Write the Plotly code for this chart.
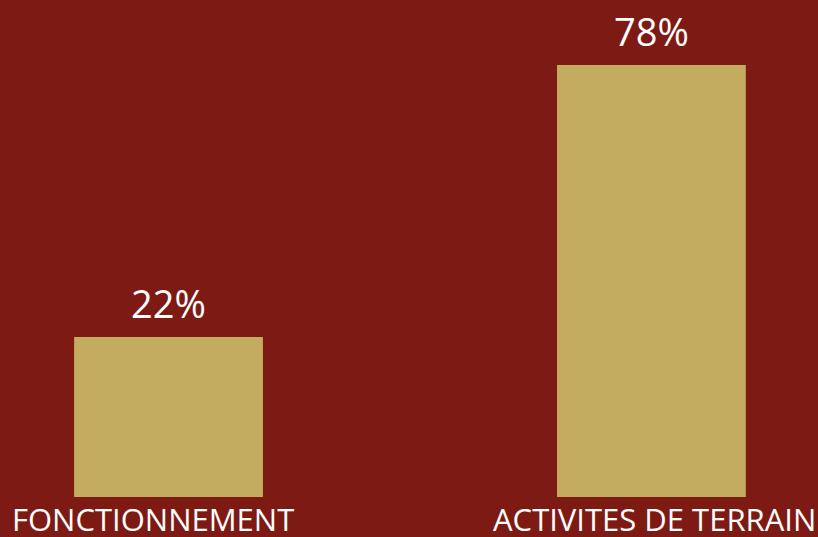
import plotly.graph_objects as go

categories = ["FONCTIONNEMENT", "ACTIVITES DE TERRAIN"]
values = [22, 78]
value_labels = ["22%", "78%"]

BASE = -10.94
BG = "#7E1A14"
BAR = "#C3AC5F"

fig = go.Figure(go.Bar(
    x=categories,
    y=[v - BASE for v in values],
    base=BASE,
    width=0.391,
    marker=dict(color=BAR, line=dict(width=0)),
    hoverinfo="skip",
))

# value labels above bars
for c, v, t in zip(categories, values, value_labels):
    fig.add_annotation(x=c, y=v, text=t, showarrow=False, yanchor="bottom",
                       yshift=6, font=dict(family="Open Sans", size=38, color="white"))

# category labels below bars
label_xshift = [-16, 3]
for c, dx in zip(categories, label_xshift):
    fig.add_annotation(x=c, y=0, yref="paper", text=c, showarrow=False, yanchor="top",
                       xshift=dx, yshift=0, borderpad=0,
                       font=dict(family="Open Sans", size=31, color="white"))

fig.update_layout(
    width=818, height=537,
    paper_bgcolor=BG, plot_bgcolor=BG,
    margin=dict(l=0, r=0, t=0, b=40),
    showlegend=False,
    font=dict(family="Open Sans", color="white"),
    xaxis=dict(range=[-0.349, 1.345], showgrid=False, zeroline=False, showline=False,
               ticks="", showticklabels=False),
    yaxis=dict(range=[BASE, 91.38], visible=False, showgrid=False, zeroline=False),
)

fig.write_html("out.html", config={"displayModeBar": False},
               post_script="document.body.style.margin='0';document.body.style.overflow='hidden';document.body.style.background='" + BG + "';")
